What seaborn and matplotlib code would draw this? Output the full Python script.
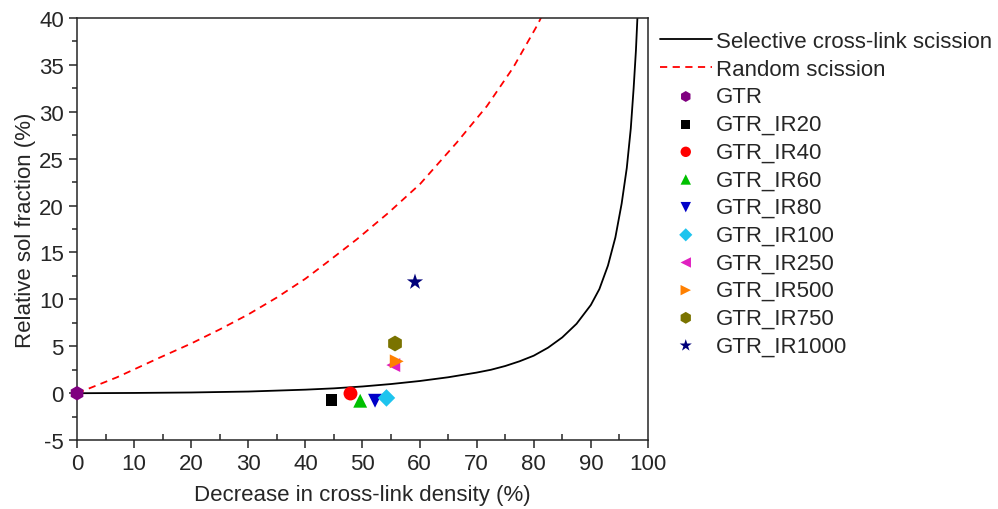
import numpy as np
import pandas as pd
import matplotlib
matplotlib.use("Agg")
import matplotlib.pyplot as plt
from matplotlib.ticker import MultipleLocator
import seaborn as sns

# Theoretical curves
sel_x = [0, 10, 20, 30, 40, 45, 50, 55, 60, 65, 70, 72.5, 75, 77.5, 80, 82.5, 85, 87.5, 90, 91.5,
         93, 94.3, 95.4, 96.3, 97, 97.5, 97.9, 98.2]
sel_y = [0, 0.03, 0.08, 0.18, 0.38, 0.52, 0.72, 0.98, 1.3, 1.7, 2.2, 2.5, 2.9, 3.4, 4.0, 4.85, 5.95, 7.4, 9.4, 11.1,
         13.6, 16.6, 20.2, 24.0, 28.2, 32.5, 36.5, 40.5]

rand_x = [0, 7, 14.5, 20, 25.0, 30, 35.0, 40, 43.8, 49, 54.5, 60.1, 66.5, 71.8, 76.4, 80.7, 81.5]
rand_y = [0, 1.7, 3.8, 5.3, 6.8, 8.4, 10.2, 12.2, 13.95, 16.4, 19.2, 22.3, 26.7, 30.6, 34.7, 39.3, 40.3]

# Samples
samples = ["GTR", "GTR_IR20", "GTR_IR40", "GTR_IR60", "GTR_IR80", "GTR_IR100",
           "GTR_IR250", "GTR_IR500", "GTR_IR750", "GTR_IR1000"]
xcld = [0, 44.6, 47.9, 49.6, 52.2, 54.2, 55.4, 56.0, 55.7, 59.2]
ysol = [0, -0.7, -0.03, -0.8, -0.8, -0.5, 3.0, 3.4, 5.3, 11.85]
markers = ["h", "s", "o", "^", "v", "D", "<", ">", "h", "*"]
colors = ["#800080", "#000000", "#ff0000", "#00c000", "#0000c8", "#1ec4ee",
          "#e020c0", "#ff8000", "#7a7300", "#00007a"]
sizes = [110, 70, 100, 100, 100, 80, 100, 100, 130, 150]

sns.set_style("ticks")
plt.rcParams["font.family"] = ["Liberation Sans", "DejaVu Sans"]
plt.rcParams["axes.unicode_minus"] = False

fig = plt.figure(figsize=(9.98, 5.10), dpi=100)
ax = fig.add_axes([0.0772, 0.135, 0.572, 0.828])

sns.lineplot(x=sel_x, y=sel_y, ax=ax, color="black", linewidth=1.3, sort=False,
             label="Selective cross-link scission")
sns.lineplot(x=rand_x, y=rand_y, ax=ax, color="#ff0000", linewidth=1.3, sort=False,
             linestyle=(0, (4, 3)), label="Random scission")

for s, x, y, m, c, sz in zip(samples, xcld, ysol, markers, colors, sizes):
    sns.scatterplot(x=[x], y=[y], ax=ax, marker=m, color=c, s=sz,
                    edgecolor="none", label=s, zorder=5, clip_on=False)

ax.set_xlim(0, 100)
ax.set_ylim(-5, 40)
ax.xaxis.set_major_locator(MultipleLocator(10))
ax.xaxis.set_minor_locator(MultipleLocator(5))
ax.yaxis.set_major_locator(MultipleLocator(5))
ax.yaxis.set_minor_locator(MultipleLocator(2.5))
ax.tick_params(axis="x", which="major", direction="out", length=6, width=1.1, labelsize=16)
ax.tick_params(axis="x", which="minor", direction="in", length=4, width=1.1)
ax.tick_params(axis="y", which="major", direction="out", length=6, width=1.1, labelsize=16)
ax.tick_params(axis="y", which="minor", direction="out", length=3.5, width=1.1)
for sp in ax.spines.values():
    sp.set_visible(True)
    sp.set_linewidth(1.1)

ax.set_xlabel("Decrease in cross-link density (%)", fontsize=16, labelpad=7)
ax.set_ylabel("Relative sol fraction (%)", fontsize=16, labelpad=2)

leg = ax.legend(loc="upper left", bbox_to_anchor=(1.005, 0.99), frameon=False,
                fontsize=16, handlelength=2.35, handletextpad=0.2,
                labelspacing=0.3, borderaxespad=0, markerscale=0.75)

fig.savefig("out.png", dpi=100)
